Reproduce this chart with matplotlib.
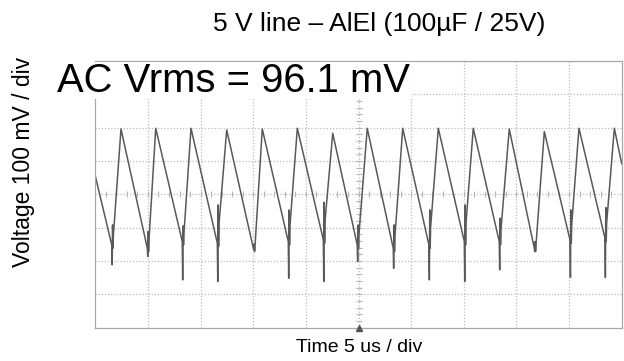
import numpy as np
import matplotlib.pyplot as plt
from matplotlib.patches import Rectangle

plt.rcParams['font.family'] = ['Liberation Sans', 'DejaVu Sans']

# Oscilloscope trace, 5 us/div, 100 mV/div
start_t, start_v = 0.0, 55
end_t, end_v = 50.0, 92

# peaks of the ripple sawtooth
peak_t = [2.44, 5.74, 9.09, 12.48, 15.86, 19.19, 22.55, 25.83, 29.20, 32.58,
          35.90, 39.32, 42.65, 45.94, 49.30]
peak_v = [196, 198, 198, 193, 196, 198, 183, 198, 198, 198, 198, 196, 188, 198, 198]

# troughs, with the switching spikes sitting on them
trough_t = [1.56, 4.94, 8.26, 11.59, 15.01, 18.33, 21.66, 24.88, 28.30, 31.69,
            35.05, 38.37, 41.70, 45.09, 48.41]
trough_v = [-152, -162, -142, -147, -162, -142, -137, -152, -162, -152,
            -142, -142, -162, -137, -132]
spike_lo = [-212, -187, -257, -262, -167, -252, -262, -202, -222, -257,
            -262, -227, -172, -249, -250]
spike_hi = [-92, -112, -95, -32, -150, -47, -24, -92, -92, -47,
            -32, -72, -142, -47, -40]

# build the polyline
t = [start_t]
v = [start_v]
for i in range(len(peak_t)):
    t += [trough_t[i], trough_t[i] + 0.04, trough_t[i] + 0.08, trough_t[i] + 0.12,
          trough_t[i] + 0.16, peak_t[i]]
    v += [trough_v[i], spike_lo[i], spike_hi[i], trough_v[i] - 10,
          (trough_v[i] + spike_hi[i]) / 2, peak_v[i]]
t.append(end_t)
v.append(end_v)

fig = plt.figure(figsize=(6.24, 3.61), dpi=100)
ax = fig.add_axes([95.3 / 624, 33.5 / 361, 526.4 / 624, 266.5 / 361])

grid_col = '#bdbdbd'
for x in np.arange(5, 50, 5):
    ax.axvline(x, color=grid_col, lw=0.9, ls=(0, (1, 1.5)), zorder=1)
for y in np.arange(-300, 400, 100):
    ax.axhline(y, color=grid_col, lw=0.9, ls=(0, (1, 1.5)), zorder=1)

# small graticule ticks on the centre lines
ax.plot(np.arange(1, 50, 1), np.zeros(49), ls='none', marker='|', ms=4,
        mew=0.8, color='#b5b5b5', zorder=1)
ax.plot(np.full(39, 25.0), np.arange(-380, 400, 20), ls='none', marker='_',
        ms=4, mew=0.8, color='#b5b5b5', zorder=1)

ax.plot(t, v, color='#595959', lw=1.1, zorder=2)
ax.plot(25, -400, marker='^', color='#555555', ms=5, clip_on=False, zorder=4)

ax.set_xlim(0, 50)
ax.set_ylim(-400, 400)
ax.set_xticks([])
ax.set_yticks([])
for s in ax.spines.values():
    s.set_color('#a8a8a8')
    s.set_linewidth(0.9)

fig.patches.append(Rectangle((55 / 624, 262 / 361), 357 / 624, 37 / 361,
                             transform=fig.transFigure, facecolor='white',
                             edgecolor='none', zorder=5))
fig.text(57 / 624, 1 - 92 / 361, 'AC Vrms = 96.1 mV', fontsize=28.8,
         va='baseline', ha='left', zorder=6)

fig.text(379 / 624, 1 - 24 / 361, '5 V line – AlEl (100µF / 25V)', fontsize=19,
         ha='center', va='center')
fig.text(359 / 624, 1 - 347 / 361, 'Time 5 us / div', fontsize=14,
         ha='center', va='center')
fig.text(24 / 624, 1 - 162 / 361, 'Voltage 100 mV / div', fontsize=16.5,
         rotation=90, ha='center', va='center')

fig.savefig('out.png', dpi=100, facecolor='white')
